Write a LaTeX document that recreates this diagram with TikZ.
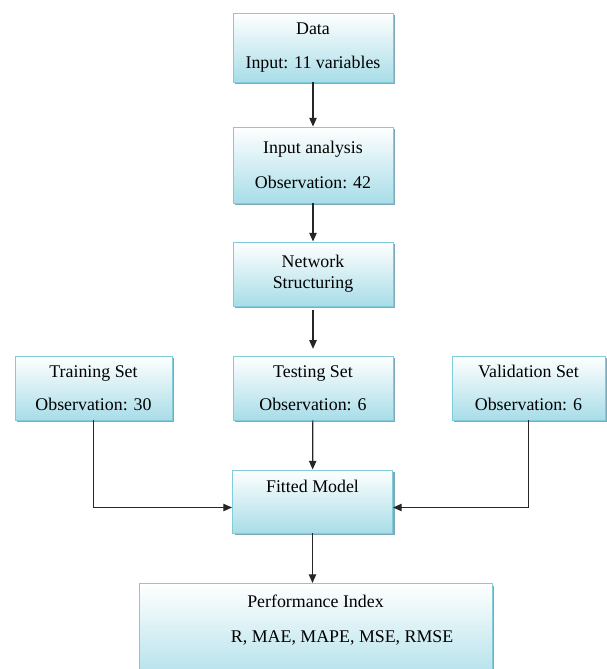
\documentclass[tikz,border=0pt]{standalone}
\usepackage{fontspec}
\setmainfont{Liberation Serif}
\usetikzlibrary{arrows.meta,shadows}
\definecolor{boxcyan}{RGB}{168,221,232}
\definecolor{boxedge}{RGB}{128,204,220}
\definecolor{boxshade}{RGB}{125,170,185}

\begin{document}
\begin{tikzpicture}[
  font=\fontsize{13.4}{16}\selectfont,
  x=0.75pt,
  y=-0.75pt,
  box/.style={draw=boxedge, line width=0.7pt, top color=white, bottom color=boxcyan,
    drop shadow={shadow xshift=1.6pt, shadow yshift=-1.6pt, fill=boxshade, opacity=1},
    align=center, inner sep=3pt, minimum width=120pt},
  arr/.style={-{Triangle[length=6.5pt,width=5.5pt]}, line width=0.9pt, black!85}
]
\useasboundingbox (0,0) rectangle (607,669);

\node[box, minimum height=51.75pt] (data) at (313,47.5) {Data\\[10pt]Input: 11 variables};
\node[box, minimum height=57pt] (input) at (313,165) {Input analysis\\[10pt]Observation: 42};
\node[box, minimum height=48pt] (net) at (313,274) {Network\\Structuring};
\foreach \nm/\x/\w/\head/\obs in {
  train/93.5/117.75/Training Set/30,
  test/313/120/Testing Set/6,
  valid/528.5/114.75/Validation Set/6
}{
  \node[box, minimum width=\w pt, minimum height=48pt] (\nm) at (\x,388) {\head\\[8.75pt]Observation: \obs};
}
\node[box, text height=13.5pt, text depth=27.75pt] (fit) at (312.5,501.5) {Fitted Model};
\node[box, minimum width=264.75pt, text height=41pt, text depth=33.25pt, anchor=north] (perf)
  at (315.5,583) {Performance Index\\[10pt]\hspace*{40pt}R, MAE, MAPE, MSE, RMSE};

% connectors
\draw[arr] (data) -- (input);
\draw[arr] (input) -- (net);
\draw[arr, shorten <=3pt, shorten >=5pt] (net) -- (test);
\draw[arr] (test) -- (fit);
\draw[arr] (train.south) |- ([yshift=-4.5pt]fit.west);
\draw[arr] (valid.south) |- ([yshift=-4.5pt]fit.east);
\draw[arr] (fit.south) -- (fit.south |- perf.north);
\end{tikzpicture}
\end{document}
